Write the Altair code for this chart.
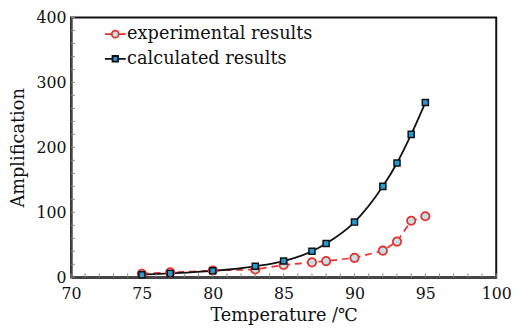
import altair as alt
import pandas as pd

temps = [75, 77, 80, 83, 85, 87, 88, 90, 92, 93, 94, 95]
experimental = [5.5, 7.5, 10.5, 12, 19, 23, 25, 30, 41, 55, 87, 94]
calculated = [4, 6, 10, 17, 25, 40, 52, 85, 140, 176, 220, 269]
series_names = ["experimental results", "calculated results"]
x_major = [70, 75, 80, 85, 90, 95, 100]
y_major = [0, 100, 200, 300, 400]
x_minor = list(range(70, 101))
y_minor = list(range(0, 401, 20))

rows = []
for t, v in zip(temps, experimental):
    rows.append({"temp": t, "value": v, "series": series_names[0]})
for t, v in zip(temps, calculated):
    rows.append({"temp": t, "value": v, "series": series_names[1]})
df = pd.DataFrame(rows)

FONT = "DejaVu Serif, serif"
W, H = 432, 264
RED = "#e8302a"
BLK = "#111111"

xscale = alt.Scale(domain=[70, 100], nice=False)
yscale = alt.Scale(domain=[0, 400], nice=False)

xaxis = alt.Axis(values=x_major, ticks=False, grid=False, domain=True, domainColor="#444",
                 domainWidth=2.5, labelFont=FONT, labelFontSize=16, labelColor="#111",
                 labelPadding=9, title="Temperature /\u2103", titleFont=FONT, titleFontSize=18,
                 titleFontWeight="normal", titleColor="#111", titlePadding=5, labelFlush=False)
yaxis = alt.Axis(values=y_major, ticks=False, grid=False, domain=True, domainColor="#444",
                 domainWidth=2.5, labelFont=FONT, labelFontSize=16, labelColor="#111",
                 labelPadding=5, title="Amplification", titleFont=FONT, titleFontSize=18,
                 titleFontWeight="normal", titleColor="#111", titlePadding=9)

circ_path = "M-1.5,0L-0.5,0M0.5,0L1.5,0M-0.5,0A0.5,0.5,0,1,1,0.5,0A0.5,0.5,0,1,1,-0.5,0Z"
sq_path = "M-1.5,0L-0.4,0M0.4,0L1.5,0M-0.4,-0.4L0.4,-0.4L0.4,0.4L-0.4,0.4Z"

stroke_scale = alt.Scale(domain=series_names, range=[RED, BLK])
fill_scale = alt.Scale(domain=series_names, range=["#c0e0ea", "#1f9bd7"])
shape_scale = alt.Scale(domain=series_names, range=[circ_path, sq_path])

legend = alt.Legend(
    title=None, orient="none", legendX=36, legendY=8, labelFont=FONT, labelFontSize=18,
    labelColor="#111", rowPadding=7, labelOffset=3, symbolStrokeWidth=1.8, symbolSize=200,
    labelLimit=400)

base = alt.Chart(df)
X = alt.X("temp:Q", scale=xscale, axis=xaxis)
Y = alt.Y("value:Q", scale=yscale, axis=yaxis)

line_exp = base.transform_filter(alt.datum.series == series_names[0]).mark_line(
    color=RED, strokeWidth=1.7, strokeDash=[7, 5]).encode(x=X, y=Y)

line_calc = base.transform_filter(alt.datum.series == series_names[1]).mark_line(
    color=BLK, strokeWidth=1.8, interpolate="monotone").encode(x=X, y=Y)

pts_exp = base.transform_filter(alt.datum.series == series_names[0]).mark_point(
    shape="circle", filled=False, fill="#c0e0ea", stroke=RED, strokeWidth=1.8, size=72, opacity=1,
    fillOpacity=1).encode(x=X, y=Y)

pts_calc = base.transform_filter(alt.datum.series == series_names[1]).mark_point(
    shape="square", filled=False, fill="#1f9bd7", stroke=BLK, strokeWidth=1.5, size=38, opacity=1,
    fillOpacity=1).encode(x=X, y=Y)

legend_layer = base.transform_filter("false").mark_point(filled=False, opacity=1, strokeWidth=1.8).encode(
    x=X, y=Y,
    shape=alt.Shape("series:N", scale=shape_scale, legend=legend),
    fill=alt.Fill("series:N", scale=fill_scale, legend=legend),
    stroke=alt.Stroke("series:N", scale=stroke_scale, legend=legend),
)

xt = pd.DataFrame({"t": x_minor})
yt = pd.DataFrame({"t": y_minor})
xticks = alt.Chart(xt).mark_rule(color="#888", strokeWidth=1).encode(
    x=alt.X("t:Q", scale=xscale, axis=xaxis),
    y=alt.value(H), y2=alt.value(H - 4))
yticks = alt.Chart(yt).mark_rule(color="#888", strokeWidth=1).encode(
    y=alt.Y("t:Q", scale=yscale, axis=yaxis),
    x=alt.value(0), x2=alt.value(4))

chart = alt.layer(line_exp, line_calc, pts_exp, pts_calc, legend_layer, xticks, yticks).properties(
    width=W, height=H, background="white",
    autosize=alt.AutoSizeParams(type="none"),
    padding={"left": 64, "top": 7, "right": 15, "bottom": 55},
).configure_view(stroke="#111", strokeWidth=2)

chart.save("out.html", embed_options={"renderer": "svg", "actions": False})
